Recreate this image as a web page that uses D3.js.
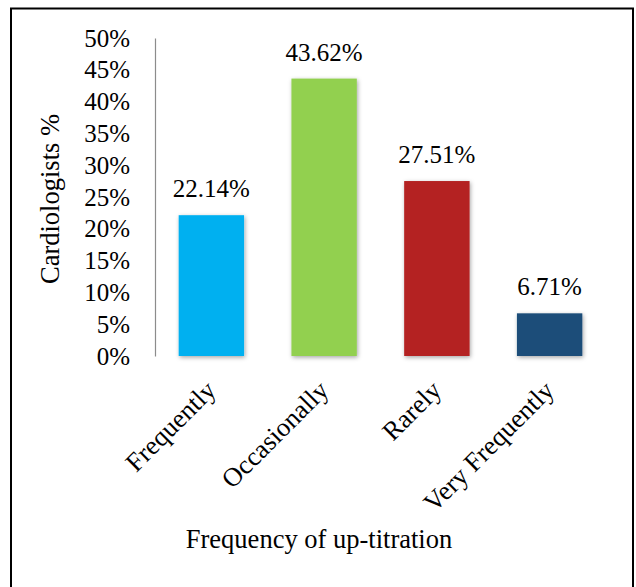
<!DOCTYPE html>
<html>
<head>
<meta charset="utf-8">
<script src="https://cdn.jsdelivr.net/npm/d3@7"></script>
<style>
  body { margin: 0; background: #fff; }
  svg text { font-family: "Times New Roman", "Liberation Serif", Tinos, "DejaVu Serif", serif; }
</style>
</head>
<body>
<div id="chart"></div>
<script>
const categories = ["Frequently", "Occasionally", "Rarely", "Very Frequently"];
const values = [22.14, 43.62, 27.51, 6.71];
const colors = ["#00b0f0", "#92d050", "#b42222", "#1f4e79"];
const yTicks = [0, 5, 10, 15, 20, 25, 30, 35, 40, 45, 50];

const width = 636;
const height = 587;
const marginLeft = 155;
const marginRight = 30;
const marginTop = 38;
const plotBottom = 356;

const svg = d3.select("#chart")
    .append("svg")
    .attr("width", width)
    .attr("height", height);

// sombra suave para barras y eje
const defs = svg.append("defs");
defs.append("filter")
    .attr("id", "shadow")
    .attr("x", "-20%").attr("y", "-20%")
    .attr("width", "140%").attr("height", "140%")
    .append("feDropShadow")
    .attr("dx", 1).attr("dy", 1.5)
    .attr("stdDeviation", 2)
    .attr("flood-color", "#000")
    .attr("flood-opacity", 0.35);

// marco
svg.append("rect")
    .attr("x", 11)
    .attr("y", 8.5)
    .attr("width", 622)
    .attr("height", 600)
    .attr("fill", "none")
    .attr("stroke", "#000")
    .attr("stroke-width", 2);

const x = d3.scaleBand()
    .domain(categories)
    .range([marginLeft, width - marginRight])
    .paddingInner(0.42)
    .paddingOuter(0.21);

const y = d3.scaleLinear()
    .domain([0, 50])
    .range([plotBottom, marginTop]);

// barras
svg.append("g")
  .selectAll("rect")
  .data(categories)
  .join("rect")
    .attr("x", d => x(d))
    .attr("y", (d, i) => y(values[i]))
    .attr("width", x.bandwidth())
    .attr("height", (d, i) => y(0) - y(values[i]))
    .attr("fill", (d, i) => colors[i])
    .attr("filter", "url(#shadow)");

// eje x
svg.append("line")
    .attr("x1", marginLeft)
    .attr("x2", width - marginRight)
    .attr("y1", plotBottom + 1)
    .attr("y2", plotBottom + 1)
    .attr("stroke", "#d9d9d9")
    .attr("stroke-width", 2)
    .attr("filter", "url(#shadow)");

svg.append("g")
    .attr("transform", `translate(0,${plotBottom})`)
    .call(d3.axisBottom(x).tickSize(0).tickPadding(0))
    .call(g => g.attr("font-family", null))
    .call(g => g.select(".domain").remove())
    .call(g => g.selectAll(".tick text")
        .attr("font-size", 26.5)
        .attr("fill", "#000")
        .attr("text-anchor", "end")
        .attr("dy", 0)
        .attr("transform", "translate(6,36) rotate(-45)"));

// eje y
svg.append("g")
    .attr("transform", `translate(${marginLeft},0)`)
    .call(d3.axisLeft(y).tickValues(yTicks).tickSize(0).tickPadding(25)
        .tickFormat(d => d + "%"))
    .call(g => g.attr("font-family", null))
    .call(g => g.select(".domain")
        .attr("stroke", "#8c8c8c")
        .attr("stroke-width", 1.2))
    .call(g => g.selectAll(".tick text")
        .attr("font-size", 25)
        .attr("fill", "#000"));

// etiquetas de valor
svg.append("g")
  .selectAll("text")
  .data(categories)
  .join("text")
    .attr("x", d => x(d) + x.bandwidth() / 2)
    .attr("y", (d, i) => y(values[i]) - 18)
    .attr("text-anchor", "middle")
    .attr("font-size", 25)
    .attr("fill", "#000")
    .text((d, i) => values[i].toFixed(2) + "%");

// títulos de ejes
svg.append("text")
    .attr("transform", "translate(59,199) rotate(-90)")
    .attr("text-anchor", "middle")
    .attr("font-size", 26.5)
    .attr("fill", "#000")
    .text("Cardiologists %");

svg.append("text")
    .attr("x", 319)
    .attr("y", 548)
    .attr("text-anchor", "middle")
    .attr("font-size", 26.5)
    .attr("fill", "#000")
    .text("Frequency of up-titration");
</script>
</body>
</html>
